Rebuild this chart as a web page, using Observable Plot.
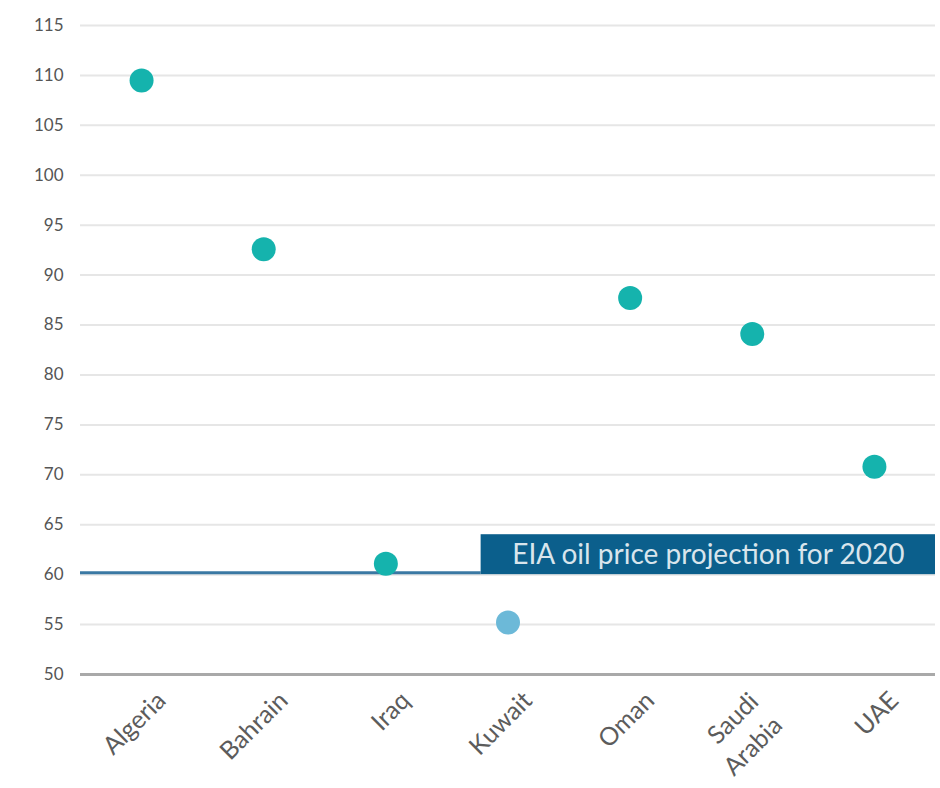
<!DOCTYPE html>
<html>
<head>
<meta charset="utf-8">
<script src="https://cdn.jsdelivr.net/npm/d3@7"></script>
<script src="https://cdn.jsdelivr.net/npm/@observablehq/plot@0.6"></script>
<style>
  body { margin: 0; background: #fff; }
  #chart svg { display: block; }
</style>
</head>
<body>
<div id="chart"></div>
<script>
// Fiscal breakeven oil prices (USD per barrel)
const countries = ["Algeria", "Bahrain", "Iraq", "Kuwait", "Oman", "Saudi Arabia", "UAE"];
const breakeven = [109.5, 92.6, 61.1, 55.2, 87.7, 84.1, 70.8];
const belowProjection = ["Kuwait"];
const countryLabels = ["Algeria", "Bahrain", "Iraq", "Kuwait", "Oman", "Saudi\nArabia", "UAE"];
const yTicks = d3.range(50, 116, 5);

// EIA projection reference line
const projectionPrice = 60.2;
const projectionLabel = "EIA oil price projection for 2020";

const points = countries.map((c, i) => ({
  country: c,
  pos: i + 0.5,
  value: breakeven[i],
  label: countryLabels[i],
  low: belowProjection.includes(c)
}));

// annotation box: starts a little left of the Kuwait column and runs to the right edge
const boxStart = countries.indexOf("Kuwait") + 0.28;
const boxEnd = countries.length;
const box = [{x1: boxStart, x2: boxEnd, y1: 60, y2: 64}];

const font = "Lato, 'Open Sans', sans-serif";
const labelOf = new Map(points.map(d => [d.pos, d.label]));
const singleLine = points.filter(d => !d.label.includes("\n")).map(d => d.pos);
const twoLine = points.filter(d => d.label.includes("\n")).map(d => d.pos);

const xLabelStyle = {
  tickSize: 0,
  tickRotate: -45,
  tickPadding: 20,
  fontSize: 25,
  lineHeight: 1.35,
  fill: "#5c5c5c",
  tickFormat: d => labelOf.get(d)
};

const chart = Plot.plot({
  width: 940,
  height: 788,
  marginLeft: 80,
  marginRight: 5,
  marginTop: 25,
  marginBottom: 114,
  style: {fontFamily: font, background: "#fff"},
  x: {domain: [0, countries.length], axis: null},
  y: {domain: [50, 115], axis: null},
  marks: [
    Plot.gridY(yTicks.filter(d => d > 50), {stroke: "#e6e6e6", strokeOpacity: 1, strokeWidth: 2}),
    Plot.axisY(yTicks, {
      tickSize: 0,
      tickPadding: 17,
      fontSize: 17,
      fill: "#555",
      textAnchor: "end",
      tickFormat: d => d
    }),
    Plot.ruleY([50], {stroke: "#a9a9a9", strokeWidth: 3}),
    Plot.axisX(singleLine, {...xLabelStyle, dx: 18}),
    // wrapped label sits a little lower so its first line lines up with the others
    Plot.axisX(twoLine, {...xLabelStyle, dx: 12, dy: 13}),
    Plot.ruleY([projectionPrice], {x1: 0, x2: boxStart, stroke: "#3a78a3", strokeWidth: 3}),
    Plot.rect(box, {x1: "x1", x2: "x2", y1: "y1", y2: "y2", fill: "#0b5f8c"}),
    Plot.text(box, {
      x: d => (d.x1 + d.x2) / 2,
      y: d => (d.y1 + d.y2) / 2,
      text: () => projectionLabel,
      fill: "#d9e5ec",
      fontSize: 28,
      fontFamily: font
    }),
    Plot.dot(points, {
      x: "pos",
      y: "value",
      r: 12,
      fill: d => d.low ? "#6cb9d8" : "#15b3ad",
      stroke: "none"
    })
  ]
});

document.getElementById("chart").append(chart);
</script>
</body>
</html>
